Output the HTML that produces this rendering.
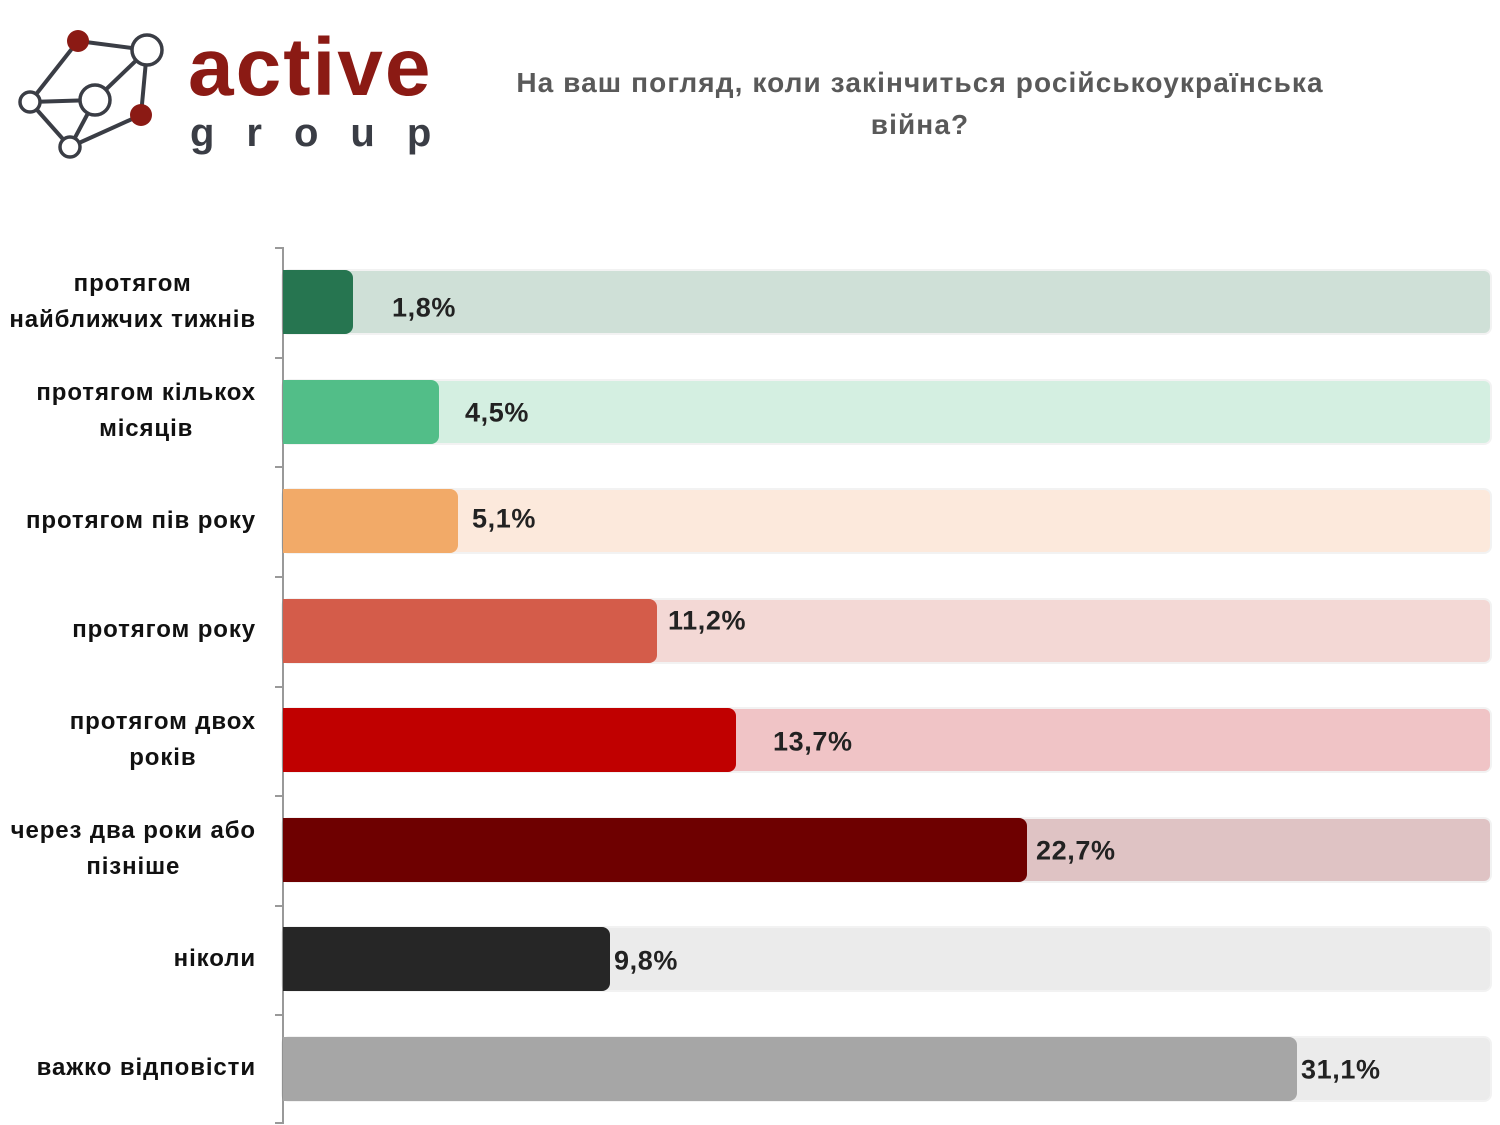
<!DOCTYPE html>
<html><head><meta charset="utf-8"><style>
body{margin:0;width:1500px;height:1125px;background:#fff;position:relative;overflow:hidden;font-family:"Liberation Sans","DejaVu Sans",sans-serif}
.a{position:absolute}
.lab{position:absolute;right:1244px;text-align:right;font-weight:bold;font-size:24px;letter-spacing:0.9px;line-height:36px;color:#111;transform:translateY(-50%);white-space:nowrap}
.bg{position:absolute;left:283px;width:1207px;height:62px;border-radius:6px;box-shadow:0 0 0 2px rgba(0,0,0,0.05)}
.fg{position:absolute;left:283px;height:64px;border-radius:0 8px 8px 0}
.v{position:absolute;font-weight:bold;font-size:27px;letter-spacing:0.6px;color:#222;transform:translateY(-50%)}
.t{position:absolute;left:275px;width:8px;height:2px;background:#999}
</style></head><body>
<svg class="a" style="left:0;top:20px" width="180" height="150">
<g stroke="#3a3d45" stroke-width="4" fill="none">
<line x1="78" y1="21" x2="147" y2="30"/><line x1="78" y1="21" x2="30" y2="82"/><line x1="30" y1="82" x2="95" y2="80"/><line x1="95" y1="80" x2="147" y2="30"/><line x1="147" y1="30" x2="141" y2="95"/><line x1="141" y1="95" x2="70" y2="127"/><line x1="30" y1="82" x2="70" y2="127"/><line x1="95" y1="80" x2="70" y2="127"/>
</g>
<circle cx="78" cy="21" r="11" fill="#8b1a14"/><circle cx="141" cy="95" r="11" fill="#8b1a14"/>
<g stroke="#3a3d45" stroke-width="3.5" fill="#fff"><circle cx="147" cy="30" r="15"/><circle cx="95" cy="80" r="15"/><circle cx="30" cy="82" r="10"/><circle cx="70" cy="127" r="10"/></g>
</svg>
<div class="a" style="left:188px;top:18px;font-size:82px;font-weight:bold;color:#8b1a14;letter-spacing:2px;line-height:100px">active</div>
<div class="a" style="left:190px;top:108px;font-size:40px;font-weight:bold;color:#3a3d45;letter-spacing:32px;line-height:50px">group</div>
<div class="a" style="left:420px;top:62px;width:1000px;text-align:center;font-size:28px;letter-spacing:1.1px;font-weight:bold;color:#595959;line-height:42px">На ваш погляд, коли закінчиться російськоукраїнська<br>війна?</div>
<div class="a" style="left:282px;top:247px;width:2px;height:877px;background:#999"></div>
<div class="t" style="top:247px"></div><div class="t" style="top:357px"></div><div class="t" style="top:466px"></div><div class="t" style="top:576px"></div><div class="t" style="top:686px"></div><div class="t" style="top:795px"></div><div class="t" style="top:905px"></div><div class="t" style="top:1014px"></div><div class="t" style="top:1122px"></div>

<div class="bg" style="top:271px;background:#cfe0d7"></div><div class="fg" style="top:270px;width:70px;background:#267550"></div>
<div class="bg" style="top:381px;background:#d4efe1"></div><div class="fg" style="top:380px;width:156px;background:#52be88"></div>
<div class="bg" style="top:490px;background:#fce9dc"></div><div class="fg" style="top:489px;width:175px;background:#f2aa68"></div>
<div class="bg" style="top:600px;background:#f3d8d5"></div><div class="fg" style="top:599px;width:374px;background:#d45c4a"></div>
<div class="bg" style="top:709px;background:#f0c4c6"></div><div class="fg" style="top:708px;width:453px;background:#c00000"></div>
<div class="bg" style="top:819px;background:#dfc3c4"></div><div class="fg" style="top:818px;width:744px;background:#6e0000"></div>
<div class="bg" style="top:928px;background:#ebebeb"></div><div class="fg" style="top:927px;width:327px;background:#262626"></div>
<div class="bg" style="top:1038px;background:#ebebeb"></div><div class="fg" style="top:1037px;width:1014px;background:#a6a6a6"></div>

<div class="v" style="left:392px;top:308px">1,8%</div>
<div class="v" style="left:465px;top:413px">4,5%</div>
<div class="v" style="left:472px;top:519px">5,1%</div>
<div class="v" style="left:668px;top:621px">11,2%</div>
<div class="v" style="left:773px;top:742px">13,7%</div>
<div class="v" style="left:1036px;top:851px">22,7%</div>
<div class="v" style="left:614px;top:961px">9,8%</div>
<div class="v" style="left:1301px;top:1070px">31,1%</div>

<div class="lab" style="top:302px;text-align:center">протягом<br>найближчих тижнів</div>
<div class="lab" style="top:411px;text-align:center">протягом кількох<br>місяців</div>
<div class="lab" style="top:521px">протягом пів року</div>
<div class="lab" style="top:630px">протягом року</div>
<div class="lab" style="top:740px;text-align:center">протягом двох<br>років</div>
<div class="lab" style="top:849px;text-align:center">через два роки або<br>пізніше</div>
<div class="lab" style="top:959px">ніколи</div>
<div class="lab" style="top:1068px">важко відповісти</div>
</body></html>
